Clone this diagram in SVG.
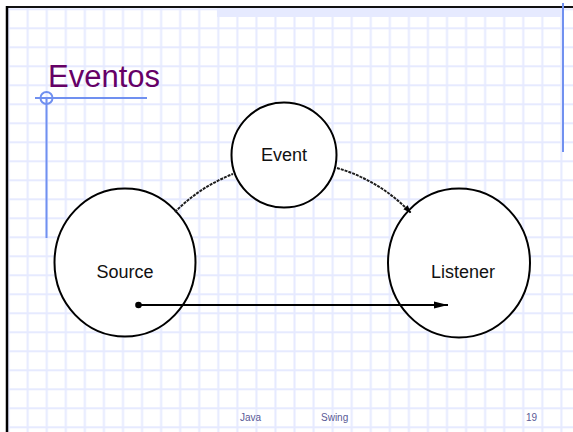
<svg xmlns="http://www.w3.org/2000/svg" width="573" height="432" viewBox="0 0 573 432">
  <style>
    .node { fill: #ffffff; stroke: #000000; stroke-width: 2; }
    .label { font-family: "Liberation Sans", Arial, sans-serif; font-size: 18px; fill: #111111; text-anchor: middle; }
    .arc { fill: none; stroke: #1e1e1e; stroke-width: 2; stroke-dasharray: 3 1; }
    .foot { font-family: "Liberation Sans", Arial, sans-serif; font-size: 10px; fill: #5a5a96; }
    .deco { stroke: #7090f0; stroke-width: 2; fill: none; }
  </style>
  <defs>
    <pattern id="grid" patternUnits="userSpaceOnUse" x="17.7" y="18.3" width="19.06" height="19">
      <path d="M10,0 V19 M0,10 H19.06" stroke="#e6eaff" stroke-width="2" fill="none"/>
    </pattern>
    <marker id="arrowBig" markerUnits="userSpaceOnUse" markerWidth="16" markerHeight="10" refX="14" refY="4" orient="auto">
      <path d="M0,0.5 L14,4 L0,7.5 Z" fill="#000000"/>
    </marker>
    <marker id="arrowSmall" markerUnits="userSpaceOnUse" markerWidth="10" markerHeight="8" refX="8" refY="4" orient="auto">
      <path d="M0,1 L8,4 L0,7 Z" fill="#000000"/>
    </marker>
  </defs>

  <!-- background -->
  <rect x="0" y="0" width="573" height="432" fill="#ffffff"/>
  <rect x="7" y="7" width="566" height="425" fill="url(#grid)"/>
  <rect x="217" y="8" width="346" height="9" fill="#e6eaff"/>
  <line x1="6" y1="7" x2="573" y2="7" stroke="#111111" stroke-width="2"/>
  <line x1="7" y1="6" x2="7" y2="432" stroke="#000000" stroke-width="2.5"/>
  <line class="deco" x1="563" y1="3" x2="563" y2="152"/>

  <!-- title decoration -->
  <line class="deco" x1="35" y1="98" x2="147" y2="98"/>
  <line class="deco" x1="46.5" y1="98" x2="46.5" y2="238"/>
  <circle class="deco" cx="46.5" cy="98" r="6"/>
  <text x="48" y="87" font-family="'Liberation Sans', Arial, sans-serif" font-size="31" fill="#660066">Eventos</text>

  <!-- nodes -->
  <g id="event">
    <circle class="node" cx="284" cy="155" r="52.5"/>
    <text class="label" x="284" y="161">Event</text>
  </g>
  <g id="source">
    <ellipse class="node" cx="125" cy="262.5" rx="70.5" ry="74"/>
    <text class="label" x="125" y="278">Source</text>
  </g>
  <g id="listener">
    <ellipse class="node" cx="459" cy="263" rx="71" ry="74.5"/>
    <text class="label" x="463" y="278">Listener</text>
  </g>

  <!-- connectors -->
  <g id="connectors">
    <path class="arc" d="M175,212 A164.5,164.5 0 0 1 233,174"/>
    <path class="arc" d="M337,168 A164.5,164.5 0 0 1 411,213" marker-end="url(#arrowSmall)"/>
    <circle cx="138.5" cy="305" r="3.3" fill="#000000"/>
    <line x1="138.5" y1="305" x2="448" y2="305" stroke="#000000" stroke-width="2" marker-end="url(#arrowBig)"/>
  </g>

  <!-- footer -->
  <text class="foot" x="240" y="421">Java</text>
  <text class="foot" x="321" y="421">Swing</text>
  <text class="foot" x="526" y="421">19</text>
</svg>
